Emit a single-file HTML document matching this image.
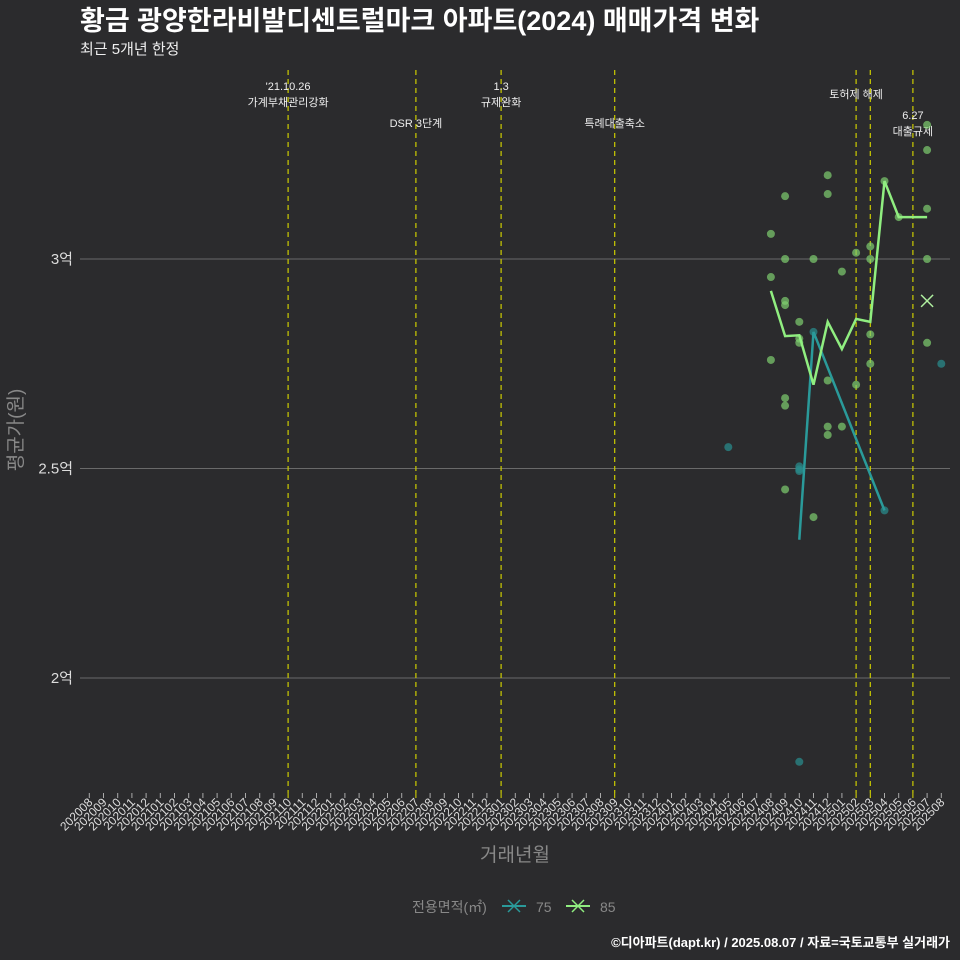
<!DOCTYPE html>
<html><head><meta charset="utf-8"><style>
body{margin:0;background:#2b2b2d;}
svg{display:block;font-family:"Liberation Sans","Noto Sans CJK KR",sans-serif;}
</style></head><body>
<svg id="c" width="960" height="960" xmlns="http://www.w3.org/2000/svg">
<rect width="960" height="960" fill="#2b2b2d"/>
<text x="80" y="30" fill="#fff" font-size="27" font-weight="bold">황금 광양한라비발디센트럴마크 아파트(2024) 매매가격 변화</text>
<text x="80" y="54" fill="#eee" font-size="15">최근 5개년 한정</text>
<g id="grid"></g><g id="vlines"></g><g id="marks"></g><g id="xt"></g>
<text transform="translate(22,430) rotate(-90)" text-anchor="middle" fill="#888" font-size="19">평균가(원)</text>
<text x="515" y="861" text-anchor="middle" fill="#888" font-size="19">거래년월</text>
<g>
<text x="412" y="912" fill="#888" font-size="14">전용면적(㎡)</text>
<g><line x1="502" y1="906" x2="526" y2="906" stroke="#2a9a9a" stroke-width="2"/><path d="M508 900l12 12M520 900l-12 12" stroke="#2a9a9a" stroke-width="1.5"/><text x="536" y="912" fill="#888" font-size="14">75</text></g>
<g><line x1="566" y1="906" x2="590" y2="906" stroke="#90ee80" stroke-width="2"/><path d="M572 900l12 12M584 900l-12 12" stroke="#90ee80" stroke-width="1.5"/><text x="600" y="912" fill="#888" font-size="14">85</text></g>
</g>
<text x="950" y="947" text-anchor="end" fill="#fff" font-size="13" font-weight="bold">©디아파트(dapt.kr) / 2025.08.07 / 자료=국토교통부 실거래가</text>
</svg>
<script>
const months=[];for(let y=2020,m=8;months.length<61;){months.push(y+String(m).padStart(2,'0'));m++;if(m>12){m=1;y++;}}
const yTicks=[2,2.5,3];
const yTickLabels=['2억','2.5억','3억'];
const line85Months=['202408','202409','202410','202411','202412','202501','202502','202503','202504','202505','202507'];
const line85Values=[2.924,2.816,2.818,2.70,2.85,2.785,2.857,2.85,3.186,3.10,3.10];
const line75Months=['202410','202411','202504'];
const line75Values=[2.33,2.826,2.40];
const dots85Months=['202408','202408','202408','202409','202409','202409','202409','202409','202409','202409','202410','202410','202410','202411','202411','202412','202412','202412','202412','202412','202501','202501','202502','202502','202503','202503','202503','202503','202504','202505','202507','202507','202507','202507','202507'];
const dots85Values=[3.06,2.957,2.759,3.15,3.0,2.90,2.89,2.668,2.65,2.45,2.85,2.81,2.80,3.0,2.384,3.2,3.155,2.71,2.60,2.58,2.97,2.60,3.015,2.70,3.03,3.0,2.82,2.75,3.186,3.10,3.32,3.26,3.12,3.0,2.80];
const dots75Months=['202405','202410','202410','202410','202410','202411','202504','202508'];
const dots75Values=[2.551,2.505,2.498,2.494,1.80,2.826,2.40,2.75];
const xMarkMonths=['202507'];const xMarkValues=[2.90];
const events=['202110','202207','202301','202309','202502','202503','202506'];
const eventLabels=[["'21.10.26","가계부채관리강화"],["","DSR 3단계"],["1.3","규제완화"],["","특례대출축소"],["토허제 해제"],[],["6.27","대출규제"]];
const eventLabelY=[90,127,90,127,98,0,119];
const NS='http://www.w3.org/2000/svg';
const X=m=>89.3+14.2*months.indexOf(m);
const Y=v=>259+(3-v)*419;
function el(t,a,p){const e=document.createElementNS(NS,t);for(const k in a)e.setAttribute(k,a[k]);document.getElementById(p).appendChild(e);return e;}
yTicks.forEach((v,i)=>{
 let l=el('line',{x1:80,x2:950,y1:Y(v),y2:Y(v),stroke:'#6a6a6a','stroke-width':1},'grid');
 
 
 let t=el('text',{x:73,y:Y(v)+5,'text-anchor':'end',fill:'#ddd','font-size':15},'grid');t.textContent=yTickLabels[i];
 
 
});
months.forEach(m=>{
 const x=X(m);const ev=events.includes(m);
 let tk=el('line',{x1:x,x2:x,y1:793,y2:798,stroke:ev?'#dddd00':'#aaa'},'xt');
 
 
 let t=el('text',{transform:`translate(${x+4},803) rotate(-45)`,'text-anchor':'end',fill:'#ddd','font-size':12},'xt');t.textContent=m;
 
 
});
events.forEach((m,i)=>{
 const x=X(m);
 let l=el('line',{x1:x,x2:x,y1:70,y2:793,stroke:'#cccc00','stroke-dasharray':'5,4','stroke-width':1.2},'vlines');
 
 
 eventLabels[i].forEach((s,j)=>{if(!s)return;let t=el('text',{x:x,y:eventLabelY[i]+j*16+(eventLabels[i].length==2&&!eventLabels[i][0]?-16:0),'text-anchor':'middle',fill:'#eee','font-size':11},'vlines');t.textContent=s;
 
 });
});
dots85Months.forEach((m,i)=>{let c=el('circle',{cx:X(m),cy:Y(dots85Values[i]),r:4,fill:'#7fcf6f','fill-opacity':0.7},'marks');
 
 });
dots75Months.forEach((m,i)=>{let c=el('circle',{cx:X(m),cy:Y(dots75Values[i]),r:4,fill:'#2a8a8a','fill-opacity':0.75},'marks');
 
 });
let p75=el('polyline',{points:line75Months.map((m,i)=>X(m)+','+Y(line75Values[i])).join(' '),fill:'none',stroke:'#2a9a9a','stroke-width':2.5},'marks');


let p85=el('polyline',{points:line85Months.map((m,i)=>X(m)+','+Y(line85Values[i])).join(' '),fill:'none',stroke:'#90ee80','stroke-width':2.5},'marks');


xMarkMonths.forEach((m,i)=>{const x=X(m),y=Y(xMarkValues[i]);let p=el('path',{d:`M${x-6} ${y-6}l12 12M${x+6} ${y-6}l-12 12`,stroke:'#b0f0a0','stroke-width':1.5},'marks');
 
 });
</script>
</body></html>
